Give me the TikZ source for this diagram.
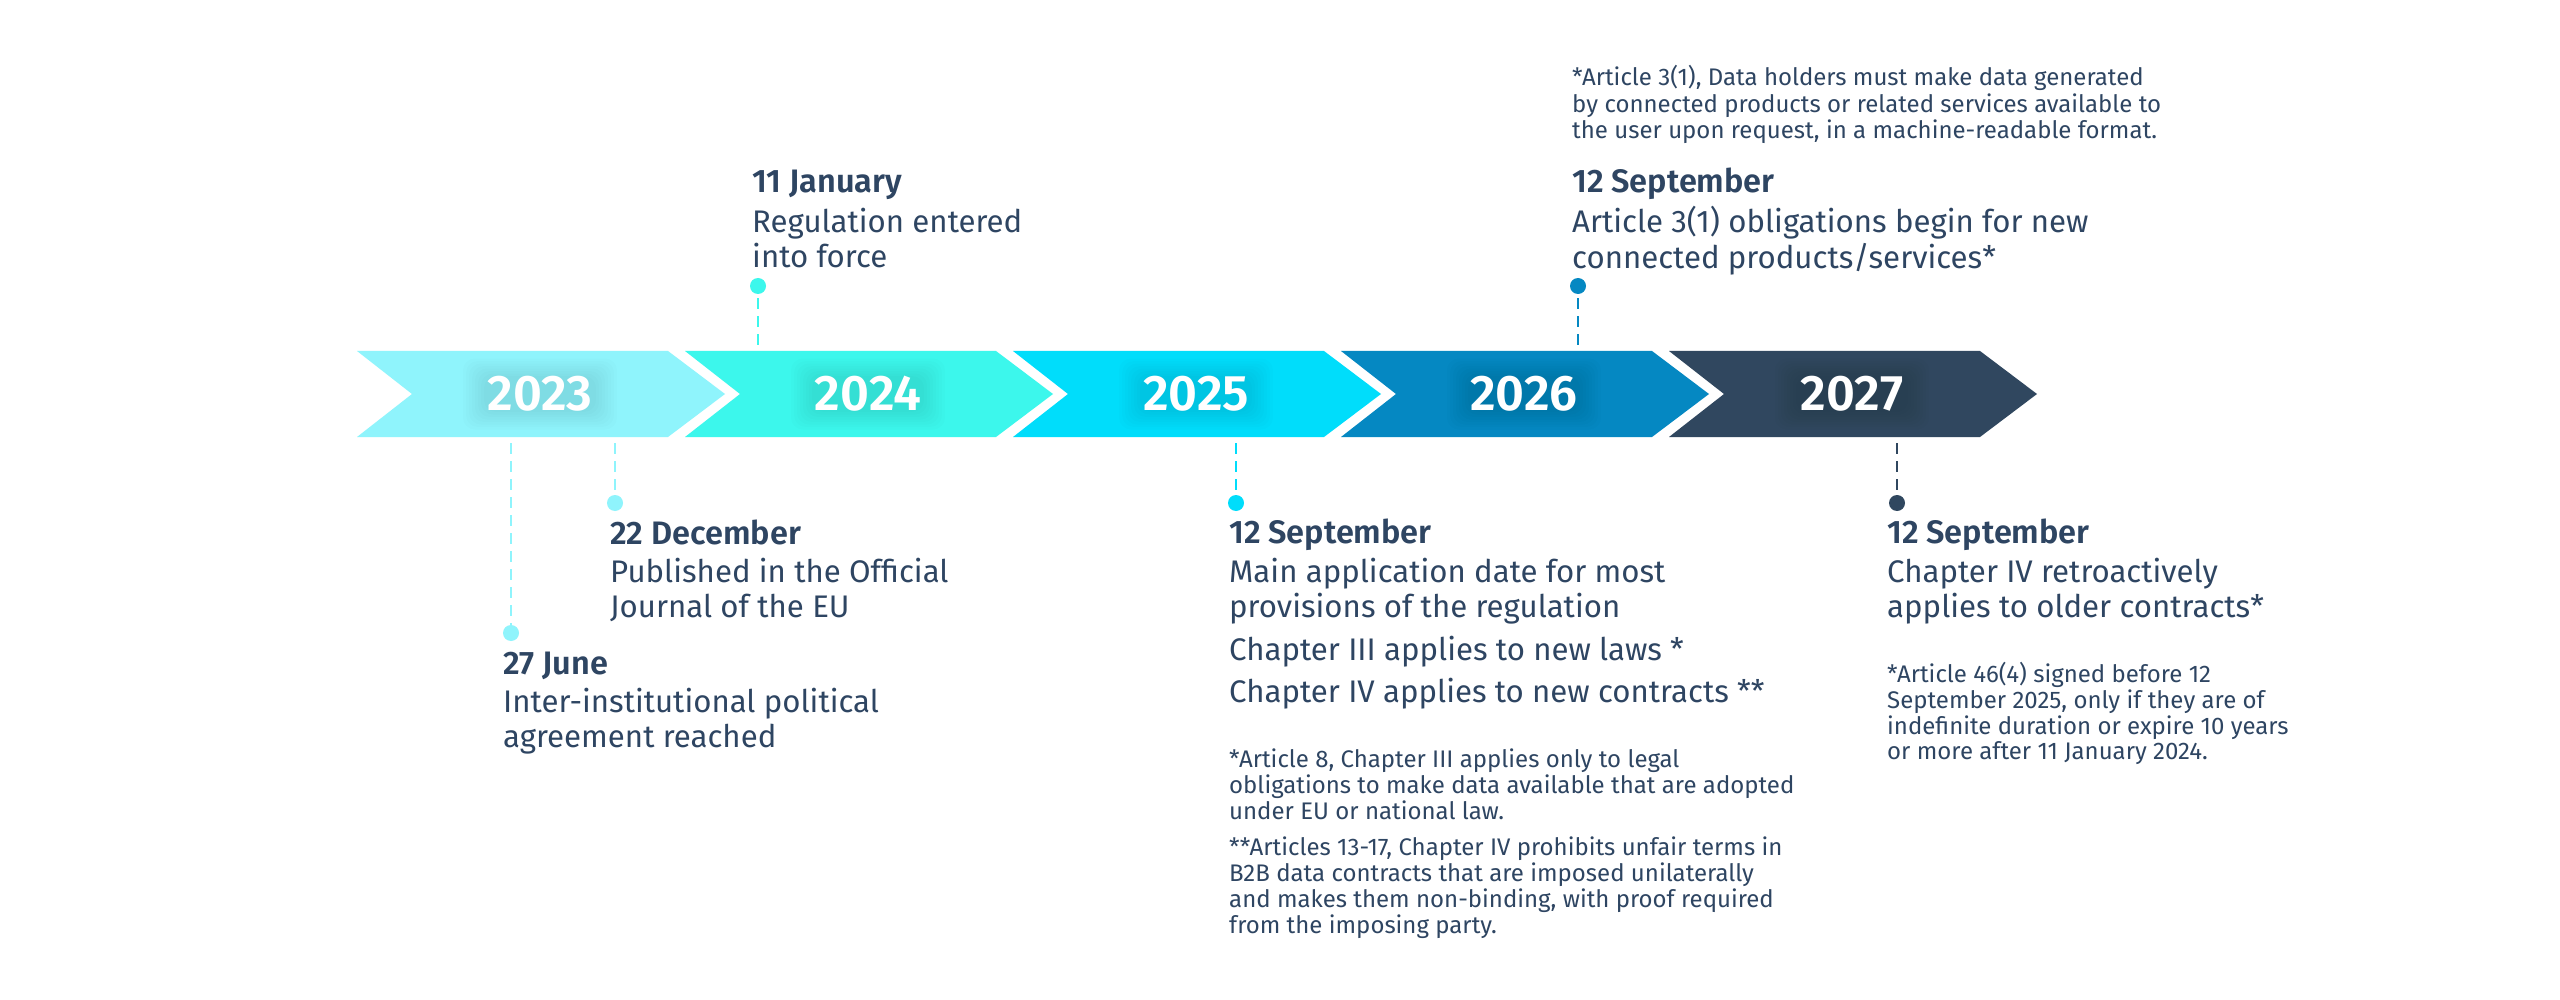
\documentclass[tikz,border=0pt]{standalone}
\usepackage{fontspec}
\setmainfont{Fira Sans}[BoldFont={Fira Sans SemiBold}]
\definecolor{cA}{HTML}{8FF4FC}
\definecolor{cB}{HTML}{3CF7EC}
\definecolor{cC}{HTML}{00DDFB}
\definecolor{cD}{HTML}{0588C2}
\definecolor{cE}{HTML}{30475F}
\definecolor{ink}{HTML}{2E4562}
\newcommand{\lns}[1]{\begin{tabular}[t]{@{}l@{}}#1\end{tabular}}
\newcommand{\chev}[3]{% left x, colour, year
  \fill[#2] (#1,351) -- ++(311,0) -- ++(57,43) -- ++(-57,43) -- ++(-311,0) -- ++(55,-43) -- cycle;
  \foreach \k in {0,...,7}{\fill[black, opacity=0.012, rounded corners=12pt]
     (#1+183-56-3*\k,394-18-2.5*\k) rectangle (#1+183+56+3*\k,394+18+2.5*\k);}
  \node[yearlbl] (y#3) at (#1+183,394) {#3};
}
\begin{document}
\begin{tikzpicture}[x=1pt,y=-1pt,
  yearlbl/.style={font=\fontsize{50}{50}\selectfont\bfseries, text=white, inner sep=0},
  datettl/.style={font=\fontsize{32.5}{35}\selectfont\bfseries, text=ink, anchor=base west, inner sep=0},
  bodytxt/.style={font=\fontsize{31.2}{35}\selectfont, text=ink, anchor=base west, inner sep=0},
  notetxt/.style={font=\fontsize{24}{24.5}\selectfont, text=ink, anchor=base west, inner sep=0},
  dotmark/.style={circle, fill=#1, inner sep=0, minimum size=16pt},
  leader/.style={draw=#1, line width=2.6pt, dash pattern=on 11pt off 7pt}
]
\fill[white] (0,0) rectangle (2560,1000);
\useasboundingbox (0,0) rectangle (2560,1000);

\chev{357}{cA}{2023}
\chev{685}{cB}{2024}
\chev{1013}{cC}{2025}
\chev{1341}{cD}{2026}
\chev{1669}{cE}{2027}

% dots
\node[dotmark=cA] (dJune) at (511,633) {};
\node[dotmark=cA] (dDec) at (615,503) {};
\node[dotmark=cB] (dJan) at (758,286) {};
\node[dotmark=cC] (dSep25) at (1236,503) {};
\node[dotmark=cD] (dSep26) at (1578,286) {};
\node[dotmark=cE] (dSep27) at (1897,503) {};

% band anchor coordinates
\coordinate (bJune) at (511,443);
\coordinate (bDec) at (615,443);
\coordinate (bJan) at (758,345);
\coordinate (bSep25) at (1236,443);
\coordinate (bSep26) at (1578,345);
\coordinate (bSep27) at (1897,443);

\draw[leader=cA] (bJune) -- (dJune.center);
\draw[leader=cA] (bDec) -- (dDec.center);
\draw[leader=cB] (bJan) -- (dJan.center);
\draw[leader=cC] (bSep25) -- (dSep25.center);
\draw[leader=cD] (bSep26) -- (dSep26.center);
\draw[leader=cE] (bSep27) -- (dSep27.center);

% 11 January
\node[datettl] (tJan) at (752,193) {11 January};
\node[bodytxt] (xJan) at (752,233) {\lns{Regulation entered\\into force}};

% 2026
\node[notetxt] (nSep26) at (1572,86) {\lns{*Article 3(1), Data holders must make data generated\\by connected products or related services available to\\the user upon request, in a machine-readable format.}};
\node[datettl] (tSep26) at (1572,193) {12 September};
\node[bodytxt] (xSep26) at (1572,233) {\lns{Article 3(1) obligations begin for new\\connected products/services*}};

% 22 December
\node[datettl] (tDec) at (610,544) {22 December};
\node[bodytxt] (xDec) at (610,582) {\lns{Published in the Official\\Journal of the EU}};

% 27 June
\node[datettl] (tJune) at (503,674) {27 June};
\node[bodytxt] (xJune) at (503,712) {\lns{Inter-institutional political\\agreement reached}};

% 2025
\node[datettl] (tSep25) at (1229,543) {12 September};
\node[bodytxt] (xSep25) at (1229,582) {\lns{Main application date for most\\provisions of the regulation\\[8pt]Chapter III applies to new laws *\\[7pt]Chapter IV applies to new contracts **}};
\node[notetxt] (nSep25) at (1229,767) {\lns{*Article 8, Chapter III applies only to legal\\obligations to make data available that are adopted\\under EU or national law.\\[10.5pt]**Articles 13-17, Chapter IV prohibits unfair terms in\\B2B data contracts that are imposed unilaterally\\and makes them non-binding, with proof required\\from the imposing party.}};

% 2027
\node[datettl] (tSep27) at (1887,543) {12 September};
\node[bodytxt] (xSep27) at (1887,582) {\lns{Chapter IV retroactively\\applies to older contracts*}};
\node[notetxt] (nSep27) at (1887,682) {\lns{*Article 46(4) signed before 12\\September 2025, only if they are of\\indefinite duration or expire 10 years\\or more after 11 January 2024.}};
\end{tikzpicture}
\end{document}
